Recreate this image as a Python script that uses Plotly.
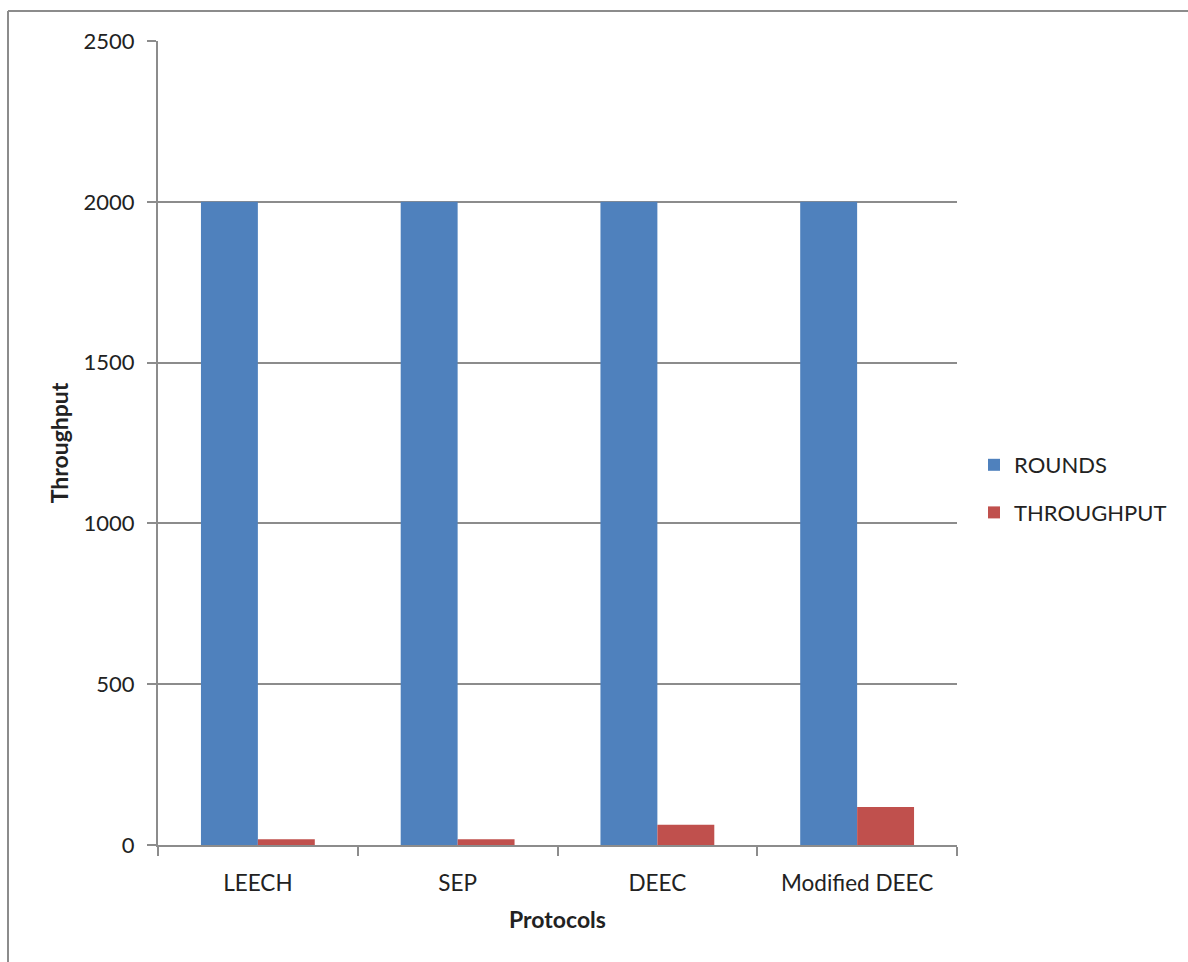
import plotly.graph_objects as go

protocols = ["LEECH", "SEP", "DEEC", "Modified DEEC"]
rounds = [2000, 2000, 2000, 2000]
throughput = [18, 18, 63, 118]
y_ticks = [0, 500, 1000, 1500, 2000, 2500]

W, H = 1188, 962
L, R, T, B = 158, 231, 41, 117
pw, ph = W - L - R, H - T - B

def px_x(x):
    return (x - L) / pw

def px_y(y):
    return (H - B - y) / ph

fig = go.Figure()
fig.add_trace(go.Bar(name="ROUNDS", x=protocols, y=rounds, legendgroup="r",
                     marker=dict(color="#4f81bd", line=dict(width=0))))
fig.add_trace(go.Bar(name="THROUGHPUT", x=protocols, y=throughput, legendgroup="t",
                     marker=dict(color="#c0504d", line=dict(width=0))))

grid = "#8c8c8c"
font = "Lato, 'Open Sans', sans-serif"

fig.update_layout(
    width=W, height=H,
    margin=dict(l=L, r=R, t=T, b=B),
    paper_bgcolor="white", plot_bgcolor="white",
    barmode="group", bargap=0.43, bargroupgap=0,
    font=dict(family=font, size=22, color="#222"),
    showlegend=True,
    legend=dict(x=px_x(974), y=px_y(444), xanchor="left", yanchor="top",
                font=dict(size=22, color="#222"), tracegroupgap=16,
                itemsizing="constant", itemwidth=30, bgcolor="rgba(0,0,0,0)"),
    xaxis=dict(
        title=dict(text="<b>Protocols</b>", font=dict(size=23), standoff=17),
        showline=True, linecolor=grid, linewidth=2,
        ticks="outside", ticklen=9, tickcolor=grid, tickwidth=2,
        tickson="boundaries", showgrid=False,
        tickfont=dict(size=22.5), ticklabelstandoff=17,
    ),
    yaxis=dict(
        title=dict(text="<b>Throughput</b>", font=dict(size=23), standoff=9),
        range=[0, 2500], tickvals=y_ticks,
        showline=True, linecolor=grid, linewidth=2,
        ticks="outside", ticklen=9, tickcolor=grid, tickwidth=2,
        showgrid=True, gridcolor=grid, gridwidth=2, zeroline=False,
        tickfont=dict(size=22), ticklabelstandoff=8,
    ),
)

# outer chart frame
fig.add_shape(type="line", xref="paper", yref="paper",
              x0=px_x(8), x1=px_x(W + 5), y0=px_y(11), y1=px_y(11),
              line=dict(color="#8c8c8c", width=2))
fig.add_shape(type="line", xref="paper", yref="paper",
              x0=px_x(8), x1=px_x(8), y0=px_y(11), y1=px_y(H + 5),
              line=dict(color="#8c8c8c", width=2))

fig.write_html("out.html")
